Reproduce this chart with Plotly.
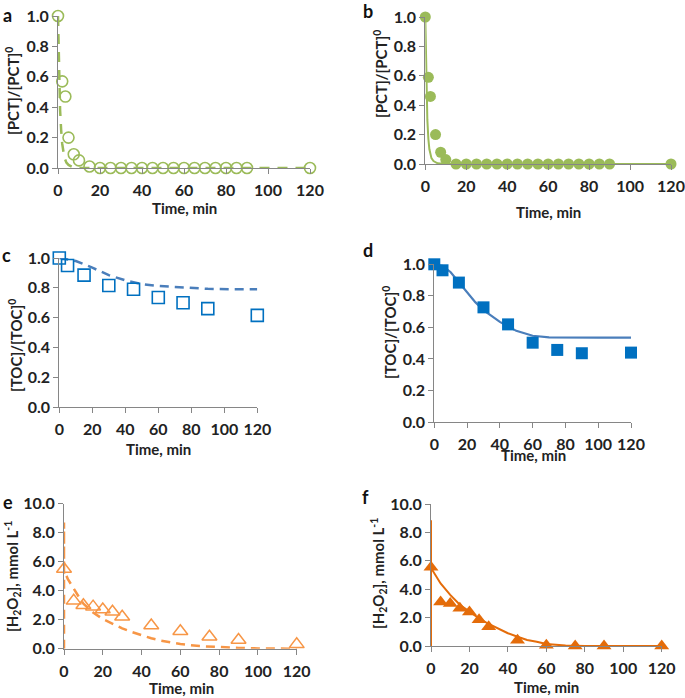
import plotly.graph_objects as go

W, H = 685, 698

# ---------------- data ----------------
a_t = [0, 2, 3.5, 5, 7.5, 10, 15, 20, 25, 30, 35, 40, 45, 50, 55, 60, 65, 70, 75, 80, 85, 90, 120]
a_y = [1.0, 0.57, 0.47, 0.20, 0.09, 0.05, 0.01, 0, 0, 0, 0, 0, 0, 0, 0, 0, 0, 0, 0, 0, 0, 0, 0]
a_fit_t = [0, 0.5, 1, 1.5, 2, 3, 4, 5, 7, 10, 20, 40, 60, 80, 100, 120]
a_fit_y = [1.0, 0.62, 0.38, 0.25, 0.16, 0.07, 0.035, 0.02, 0.006, 0.0, 0, 0, 0, 0, 0, 0]

b_t = [0, 1.5, 2.5, 5, 7.5, 10, 15, 20, 25, 30, 35, 40, 45, 50, 55, 60, 65, 70, 75, 80, 85, 90, 120]
b_y = [1.0, 0.59, 0.46, 0.20, 0.08, 0.03, 0, 0, 0, 0, 0, 0, 0, 0, 0, 0, 0, 0, 0, 0, 0, 0, 0]
b_fit_t = [0, 0.5, 1, 1.5, 2, 3, 4, 6, 10, 20, 60, 120]
b_fit_y = [1.0, 0.55, 0.30, 0.17, 0.10, 0.04, 0.02, 0.005, 0.0, 0, 0, 0]

c_t = [0, 5, 15, 30, 45, 60, 75, 90, 120]
c_y = [1.0, 0.95, 0.885, 0.815, 0.79, 0.735, 0.70, 0.66, 0.615]
c_fit_t = [0, 10, 20, 30, 40, 50, 60, 75, 90, 105, 120]
c_fit_y = [1.0, 0.98, 0.935, 0.885, 0.85, 0.825, 0.812, 0.80, 0.793, 0.79, 0.79]

d_t = [0, 5, 15, 30, 45, 60, 75, 90, 120]
d_y = [1.0, 0.962, 0.884, 0.727, 0.619, 0.503, 0.457, 0.436, 0.44]
d_fit_t = [0, 5, 10, 15, 20, 25, 30, 40, 50, 60, 70, 80, 100, 120]
d_fit_y = [1.0, 0.99, 0.95, 0.885, 0.82, 0.76, 0.71, 0.635, 0.578, 0.547, 0.537, 0.535, 0.535, 0.535]

e_t = [0, 5, 10, 15, 20, 25, 30, 45, 60, 75, 90, 120]
e_y = [5.5, 3.3, 3.0, 2.9, 2.7, 2.55, 2.2, 1.6, 1.2, 0.83, 0.6, 0.3]
e_fit_t = [0, 0, 0, 2, 5, 8, 10, 15, 20, 25, 30, 35, 40, 45, 50, 60, 70, 80, 90, 100, 120]
e_fit_y = [0, 8.7, 5.4, 4.8, 4.1, 3.5, 3.1, 2.5, 2.05, 1.7, 1.4, 1.15, 0.92, 0.72, 0.56, 0.32, 0.18, 0.1, 0.05, 0.02, 0.0]

f_t = [0, 5, 10, 15, 20, 25, 30, 45, 60, 75, 90, 120]
f_y = [5.55, 3.1, 3.0, 2.65, 2.4, 1.85, 1.35, 0.4, 0.05, 0.0, 0.0, 0.0]
f_fit_t = [0, 0, 0, 5, 10, 15, 20, 25, 30, 40, 45, 50, 55, 60, 70, 80, 100, 120]
f_fit_y = [0, 8.85, 5.5, 4.4, 3.6, 2.9, 2.4, 1.95, 1.55, 0.9, 0.65, 0.42, 0.3, 0.14, 0.03, 0.0, 0.0, 0.0]

x_ticks = [0, 20, 40, 60, 80, 100, 120]
frac_ticks = [0.0, 0.2, 0.4, 0.6, 0.8, 1.0]
h2o2_ticks = [0.0, 2.0, 4.0, 6.0, 8.0, 10.0]

GREEN = "#9BBB59"
BLUE_M = "#0070C0"
BLUE_L = "#4A7EBB"
ORANGE_E = "#F79646"
ORANGE_F = "#E46C0A"
AXIS = "#868686"
FONT = "Lato"

# panel pixel boxes: (x0, x1, ytop, ybottom)
boxes = {
    1: (58.0, 310.0, 16.0, 168.0),
    2: (425.3, 671.0, 17.0, 164.0),
    3: (59.3, 257.3, 258.0, 407.0),
    4: (434.3, 631.0, 264.3, 422.0),
    5: (64.0, 296.7, 503.7, 648.7),
    6: (431.0, 661.7, 504.0, 646.0),
}

fig = go.Figure()

def add(i, x, y, **kw):
    sfx = "" if i == 1 else str(i)
    fig.add_trace(go.Scatter(x=x, y=y, xaxis="x" + sfx, yaxis="y" + sfx,
                             showlegend=False, cliponaxis=False, **kw))

# a
add(1, a_fit_t, a_fit_y, mode="lines", line=dict(color=GREEN, width=2.5, dash="10px,8px"))
add(1, a_t, a_y, mode="markers",
    marker=dict(symbol="circle-open", size=11, color=GREEN, line=dict(width=1.6, color=GREEN)))
# b
add(2, b_fit_t, b_fit_y, mode="lines", line=dict(color=GREEN, width=2))
add(2, b_t, b_y, mode="markers", marker=dict(symbol="circle", size=11, color=GREEN))
# c
add(3, c_fit_t, c_fit_y, mode="lines", line=dict(color=BLUE_L, width=2.5, dash="9px,6px"))
add(3, c_t, c_y, mode="markers",
    marker=dict(symbol="square-open", size=12, color=BLUE_M, line=dict(width=1.6, color=BLUE_M)))
# d
add(4, d_fit_t, d_fit_y, mode="lines", line=dict(color=BLUE_L, width=2.2))
add(4, d_t, d_y, mode="markers", marker=dict(symbol="square", size=12, color=BLUE_M))
# e
add(5, e_fit_t, e_fit_y, mode="lines", line=dict(color=ORANGE_E, width=2.5, dash="9px,6px"))
add(5, e_t, e_y, mode="markers",
    marker=dict(symbol="triangle-up-open", size=13, color=ORANGE_E, line=dict(width=1.5, color=ORANGE_E)))
# f
add(6, f_fit_t, f_fit_y, mode="lines", line=dict(color=ORANGE_F, width=2))
add(6, f_t, f_y, mode="markers", marker=dict(symbol="triangle-up", size=13, color=ORANGE_F))

tickfont = dict(family=FONT, size=16, color="#222222", weight="bold")
layout = dict(width=W, height=H, margin=dict(l=0, r=0, t=0, b=0, autoexpand=False),
              plot_bgcolor="white", paper_bgcolor="white", showlegend=False)

for i, (x0, x1, yt, yb) in boxes.items():
    sfx = "" if i == 1 else str(i)
    frac = i <= 4
    layout["xaxis" + sfx] = dict(
        domain=[x0 / W, x1 / W], anchor="y" + sfx, range=[0, 120],
        tickvals=x_ticks, ticktext=[str(v) for v in x_ticks],
        showgrid=False, zeroline=False, showline=True, linecolor=AXIS, linewidth=1,
        ticks="outside", ticklen=5, tickcolor=AXIS, tickfont=tickfont, fixedrange=True,
        ticklabelstandoff=3, automargin=False)
    yt_vals = frac_ticks if frac else h2o2_ticks
    layout["yaxis" + sfx] = dict(
        domain=[1 - yb / H, 1 - yt / H], anchor="x" + sfx,
        range=[0, 1.0] if frac else [0, 10.0],
        tickvals=yt_vals, ticktext=[f"{v:.1f}" for v in yt_vals],
        showgrid=False, zeroline=False, showline=True, linecolor=AXIS, linewidth=1,
        ticks="outside", ticklen=5, tickcolor=AXIS, tickfont=tickfont, fixedrange=True,
        automargin=False)

fig.update_layout(**layout)

tfont = dict(family=FONT, size=15, color="#222222")
lfont = dict(family=FONT, size=18, color="#111111")

# x titles (px center x, center y)
xt = [(184, 208), (548, 212), (158, 449), (533, 455), (181, 688), (546, 687)]
for (px, py) in xt:
    fig.add_annotation(text="<b>Time, min</b>", x=px / W, y=1 - py / H, xref="paper", yref="paper",
                       showarrow=False, font=tfont, xanchor="center", yanchor="middle")

pct = "<b>[PCT]/[PCT]<sup>0</sup></b>"
toc = "<b>[TOC]/[TOC]<sup>0</sup></b>"
h2o2 = "<b>[H<sub>2</sub>O<sub>2</sub>], mmol L<sup>-1</sup></b>"
yt_list = [(pct, 13, 91), (pct, 380, 74), (toc, 15, 346), (toc, 389, 333), (h2o2, 12, 577), (h2o2, 378, 574)]
for (txt, px, py) in yt_list:
    fig.add_annotation(text=txt, x=px / W, y=1 - py / H, xref="paper", yref="paper",
                       showarrow=False, font=tfont, textangle=-90, xanchor="center", yanchor="middle")

letters = [("a", 8, 15), ("b", 368, 11), ("c", 6, 255), ("d", 368, 250), ("e", 8, 502), ("f", 365, 497)]
for (t, px, py) in letters:
    fig.add_annotation(text=f"<b>{t}</b>", x=px / W, y=1 - py / H, xref="paper", yref="paper",
                       showarrow=False, font=lfont, xanchor="center", yanchor="middle")

fig.write_html("out.html", config={"displayModeBar": False},
               post_script="document.body.style.margin='0';document.body.style.overflow='hidden';")
